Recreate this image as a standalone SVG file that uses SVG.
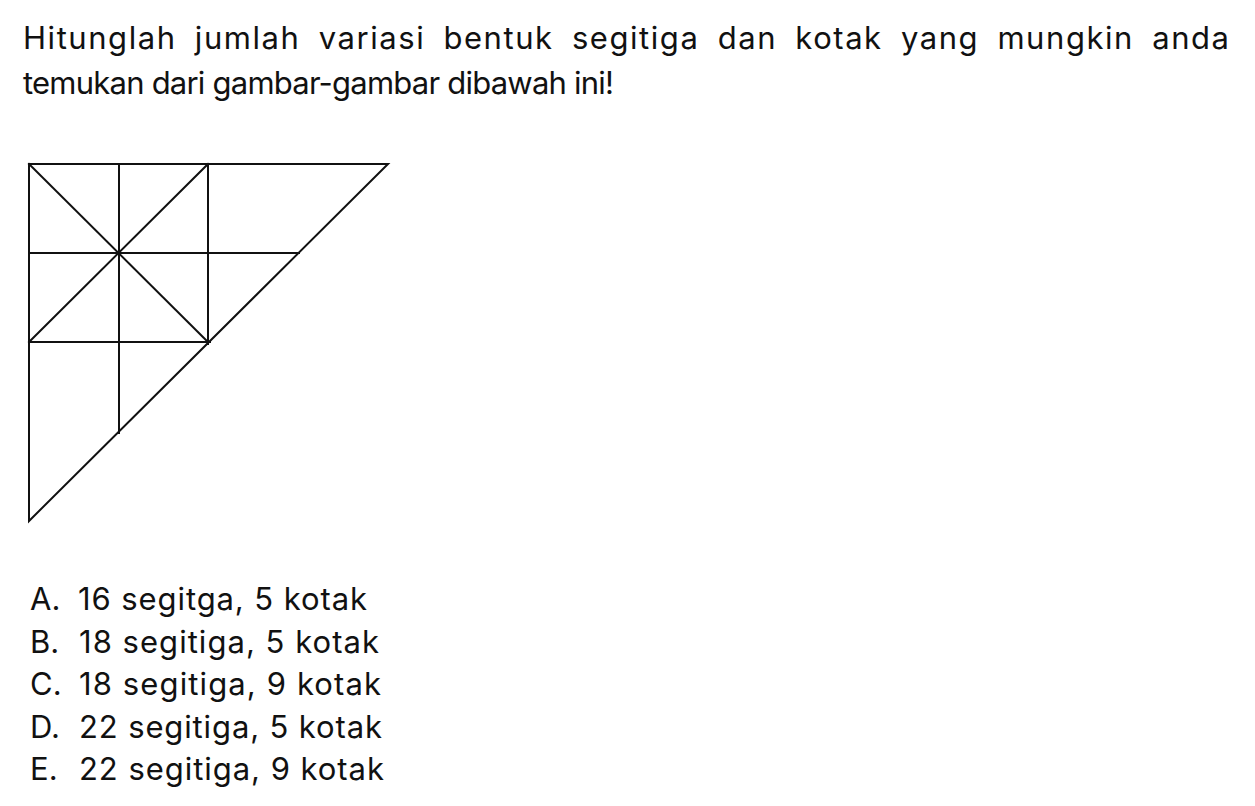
<svg xmlns="http://www.w3.org/2000/svg" width="1255" height="806" viewBox="0 0 1255 806">
<style>
.t{font-family:Inter,"Open Sans","Liberation Sans",sans-serif;font-size:31px;fill:#111}
.ln{stroke:#111;stroke-width:2;fill:none;stroke-linecap:square}
</style>
<rect width="1255" height="806" fill="#fff"/>
<g id="question">
<text class="t" x="23" y="49" letter-spacing="1" word-spacing="8" textLength="1207" lengthAdjust="spacing">Hitunglah jumlah variasi bentuk segitiga dan kotak yang mungkin anda</text>
<text class="t" x="23" y="94" textLength="591" lengthAdjust="spacing">temukan dari gambar-gambar dibawah ini!</text>
</g>
<g id="figure" class="ln">
<path d="M29,164 L388,164 L29,521 Z"/>
<line x1="29" y1="253" x2="299" y2="253"/>
<line x1="29" y1="342" x2="210" y2="342"/>
<line x1="119" y1="164" x2="119" y2="433"/>
<line x1="208" y1="164" x2="208" y2="344"/>
<line x1="29" y1="164" x2="208" y2="342"/>
<line x1="208" y1="164" x2="29" y2="342"/>
</g>
<g id="options">
<text class="t" x="30" y="610">A.</text>
<text class="t" x="78" y="610" textLength="289" lengthAdjust="spacing">16 segitga, 5 kotak</text>
<text class="t" x="30" y="653">B.</text>
<text class="t" x="79" y="653" textLength="300" lengthAdjust="spacing">18 segitiga, 5 kotak</text>
<text class="t" x="30" y="695">C.</text>
<text class="t" x="79" y="695" textLength="302" lengthAdjust="spacing">18 segitiga, 9 kotak</text>
<text class="t" x="30" y="738">D.</text>
<text class="t" x="79" y="738" textLength="303" lengthAdjust="spacing">22 segitiga, 5 kotak</text>
<text class="t" x="30" y="780">E.</text>
<text class="t" x="79" y="780" textLength="305" lengthAdjust="spacing">22 segitiga, 9 kotak</text>
</g>
</svg>
